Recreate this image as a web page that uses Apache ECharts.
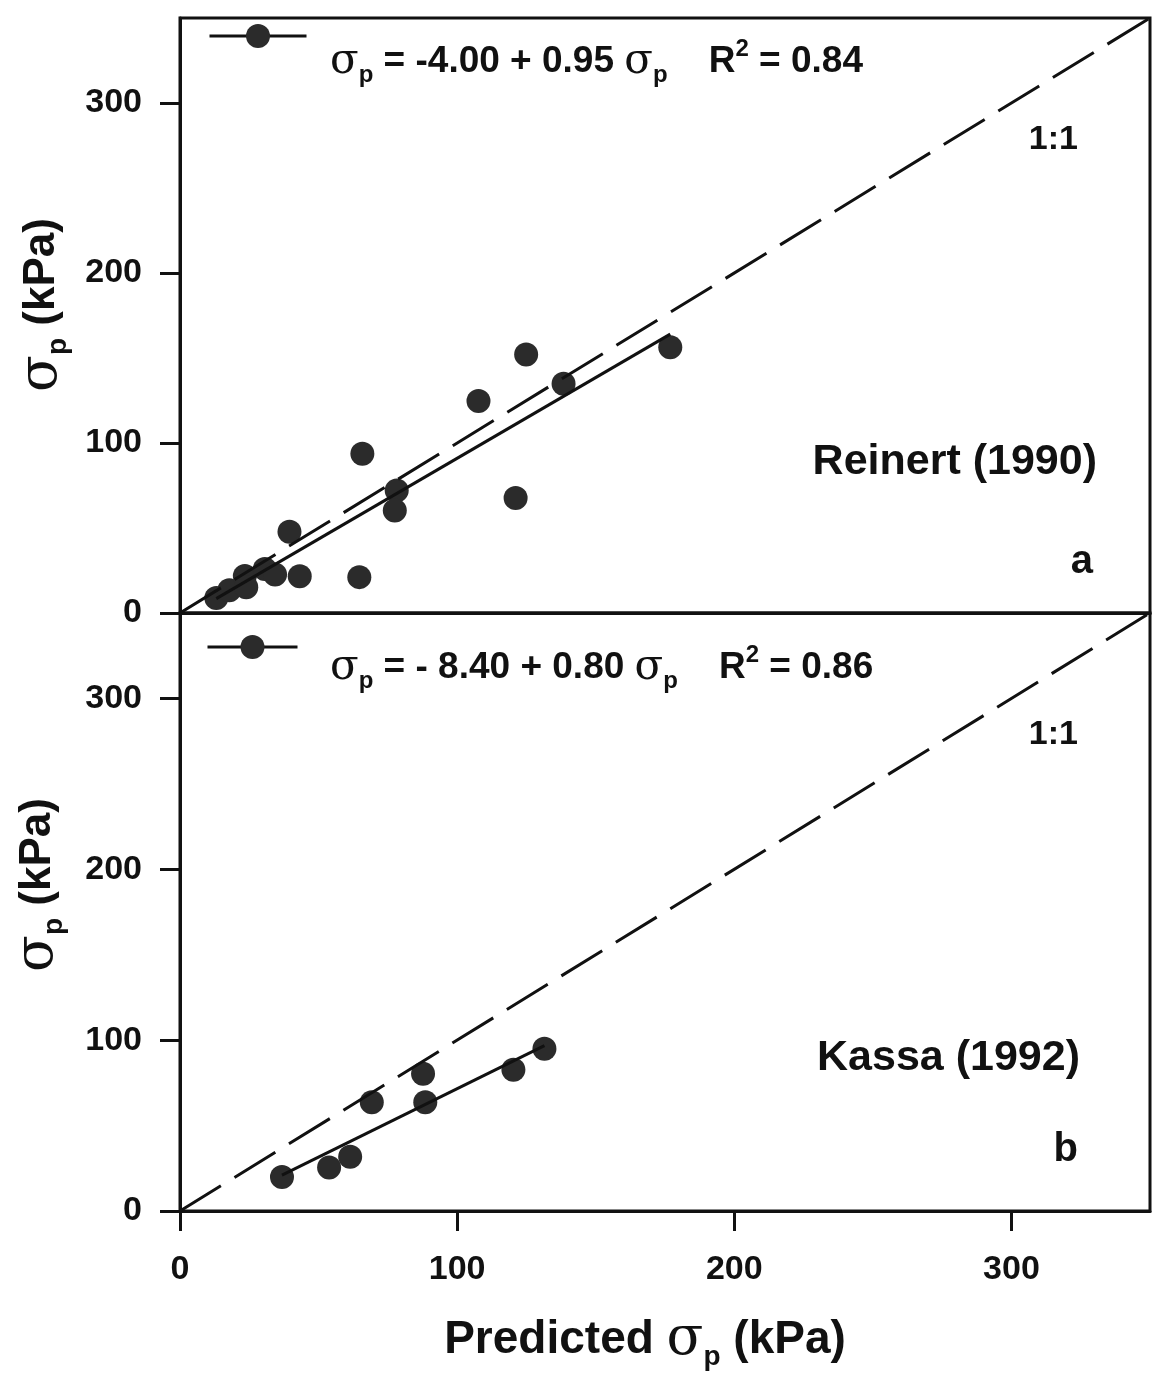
<!DOCTYPE html>
<html>
<head>
<meta charset="utf-8">
<script src="https://cdn.jsdelivr.net/npm/echarts@6/dist/echarts.min.js"></script>
<style>
  html, body { margin: 0; padding: 0; background: #fff; }
  #chart { width: 1164px; height: 1378px; }
</style>
</head>
<body>
<div id="chart"></div>
<script>
// Axis range and tick positions shared by both panels (kPa)
const axisMin = 0;
const axisMax = 350;
const tickValues = [0, 100, 200, 300];

// Panel a: Reinert (1990) — predicted vs measured preconsolidation pressure
const reinertPredicted = [13.1, 17.8, 23.4, 23.9, 30.6, 34.3, 43.2, 39.5, 64.7, 65.8, 78.2, 77.5, 124.9, 107.7, 138.4, 121.1, 176.9];
const reinertMeasured  = [8.8, 13.4, 21.8, 15.1, 25.9, 22.7, 21.6, 47.8, 21.1, 93.7, 72.1, 60.3, 152.1, 124.7, 134.9, 67.6, 156.3];
const reinertIntercept = -4.00;
const reinertSlope = 0.95;
const reinertR2 = 0.84;

// Panel b: Kassa (1992)
const kassaPredicted = [36.8, 53.8, 61.4, 69.2, 88.5, 87.7, 120.3, 131.5];
const kassaMeasured  = [19.9, 25.4, 31.8, 63.6, 63.7, 80.3, 82.7, 95.0];
const kassaIntercept = -8.40;
const kassaSlope = 0.80;
const kassaR2 = 0.86;

// Reference 1:1 line
const oneToOne = [[axisMin, axisMin], [axisMax, axisMax]];

const SANS = '"Liberation Sans", Arial, sans-serif';
const SERIF = '"DejaVu Serif", "Liberation Serif", serif';
const INK = '#111';
const DOT = '#2b2b2b';

function pairs(xs, ys) { return xs.map((x, i) => [x, ys[i]]); }
function fitSegment(xs, a, b) {
  const lo = Math.min(...xs), hi = Math.max(...xs);
  return [[lo, a + b * lo], [hi, a + b * hi]];
}

const eqRich = {
  t:   { fontFamily: SANS, fontSize: 37, fontWeight: 'bold', lineHeight: 50, color: INK },
  s:   { fontFamily: SERIF, fontSize: 42, lineHeight: 50, color: INK },
  p:   { fontFamily: SANS, fontSize: 24, fontWeight: 'bold', lineHeight: 24, verticalAlign: 'bottom', color: INK },
  sup: { fontFamily: SANS, fontSize: 24, fontWeight: 'bold', lineHeight: 24, verticalAlign: 'top', color: INK }
};
const nameRich = {
  t: { fontFamily: SANS, fontSize: 44, fontWeight: 'bold', lineHeight: 60, color: INK },
  s: { fontFamily: SERIF, fontSize: 54, lineHeight: 60, color: INK },
  p: { fontFamily: SANS, fontSize: 28, fontWeight: 'bold', lineHeight: 28, verticalAlign: 'bottom', color: INK }
};
const xNameRich = {
  t: { fontFamily: SANS, fontSize: 46, fontWeight: 'bold', lineHeight: 62, color: INK },
  s: { fontFamily: SERIF, fontSize: 54, lineHeight: 62, color: INK },
  p: { fontFamily: SANS, fontSize: 28, fontWeight: 'bold', lineHeight: 28, verticalAlign: 'bottom', color: INK }
};

function equation(a, b, r2, signGap) {
  const sign = a < 0 ? '-' + signGap : '+' + signGap;
  return '{s|σ}{p|p}{t| = ' + sign + Math.abs(a).toFixed(2) + ' + ' + b.toFixed(2) + ' }{s|σ}{p|p}{t|    R}{sup|2}{t| = ' + r2.toFixed(2) + '}';
}

function label(text, x, y, size, align) {
  return {
    type: 'text', x: x, y: y, z: 10,
    style: {
      text: text, fill: INK,
      font: 'bold ' + size + 'px ' + SANS,
      align: align, textAlign: align,
      verticalAlign: 'middle', textVerticalAlign: 'middle'
    }
  };
}
function richText(text, rich, x, y, align, rotation) {
  return {
    type: 'text', x: x, y: y, rotation: rotation || 0, z: 10,
    style: {
      text: text, rich: rich, fill: INK,
      align: align, textAlign: align,
      verticalAlign: 'middle', textVerticalAlign: 'middle'
    }
  };
}

const axisLineStyle = { color: INK, width: 3 };
const tickLabel = { fontFamily: SANS, fontSize: 34, fontWeight: 'bold', color: INK };

function yAxis(gridIndex) {
  return {
    type: 'value', gridIndex: gridIndex, min: axisMin, max: axisMax, interval: 100,
    axisLine: { show: true, lineStyle: axisLineStyle },
    axisTick: { show: true, length: 20, inside: false, lineStyle: { color: INK, width: 3 }, customValues: tickValues },
    axisLabel: Object.assign({ margin: 38, customValues: tickValues }, tickLabel),
    splitLine: { show: false }
  };
}

const option = {
  backgroundColor: '#fff',
  animation: false,
  grid: [
    { left: 180, top: 18, width: 970, height: 595, show: true, borderColor: INK, borderWidth: 3, backgroundColor: 'transparent' },
    { left: 180, top: 613, width: 970, height: 598, show: true, borderColor: INK, borderWidth: 3, backgroundColor: 'transparent' }
  ],
  xAxis: [
    {
      type: 'value', gridIndex: 0, min: axisMin, max: axisMax, interval: 100,
      axisLine: { show: true, lineStyle: axisLineStyle },
      axisTick: { show: false }, axisLabel: { show: false }, splitLine: { show: false }
    },
    {
      type: 'value', gridIndex: 1, min: axisMin, max: axisMax, interval: 100,
      axisLine: { show: true, lineStyle: axisLineStyle },
      axisTick: { show: true, length: 20, inside: false, lineStyle: { color: INK, width: 3 }, customValues: tickValues },
      axisLabel: Object.assign({ margin: 42, customValues: tickValues }, tickLabel),
      splitLine: { show: false }
    }
  ],
  yAxis: [yAxis(0), yAxis(1)],
  legend: [
    {
      data: ['Reinert fit'], left: 208, top: 21, itemWidth: 97, itemHeight: 30,
      selectedMode: false, formatter: () => '', lineStyle: { width: 3 }, padding: 0
    },
    {
      data: ['Kassa fit'], left: 206, top: 632, itemWidth: 90, itemHeight: 30,
      selectedMode: false, formatter: () => '', lineStyle: { width: 3 }, padding: 0
    }
  ],
  series: [
    {
      type: 'line', xAxisIndex: 0, yAxisIndex: 0, data: oneToOne, showSymbol: false, symbol: 'none',
      lineStyle: { color: INK, width: 3, type: [48, 16] }, silent: true
    },
    {
      name: 'Reinert fit', type: 'line', xAxisIndex: 0, yAxisIndex: 0,
      data: fitSegment(reinertPredicted, reinertIntercept, reinertSlope),
      symbol: 'circle', showSymbol: false, color: DOT,
      lineStyle: { color: INK, width: 3 }, silent: true
    },
    {
      type: 'scatter', xAxisIndex: 0, yAxisIndex: 0, data: pairs(reinertPredicted, reinertMeasured),
      symbol: 'circle', symbolSize: 24, itemStyle: { color: DOT, opacity: 1 }, silent: true
    },
    {
      type: 'line', xAxisIndex: 1, yAxisIndex: 1, data: oneToOne, showSymbol: false, symbol: 'none',
      lineStyle: { color: INK, width: 3, type: [48, 16] }, silent: true
    },
    {
      name: 'Kassa fit', type: 'line', xAxisIndex: 1, yAxisIndex: 1,
      data: fitSegment(kassaPredicted, kassaIntercept, kassaSlope),
      symbol: 'circle', showSymbol: false, color: DOT,
      lineStyle: { color: INK, width: 3 }, silent: true
    },
    {
      type: 'scatter', xAxisIndex: 1, yAxisIndex: 1, data: pairs(kassaPredicted, kassaMeasured),
      symbol: 'circle', symbolSize: 24, itemStyle: { color: DOT, opacity: 1 }, silent: true
    }
  ],
  graphic: [
    richText(equation(reinertIntercept, reinertSlope, reinertR2, ''), eqRich, 330, 62, 'left'),
    richText(equation(kassaIntercept, kassaSlope, kassaR2, ' '), eqRich, 330, 668, 'left'),
    label('1:1', 1078, 140, 34, 'right'),
    label('Reinert (1990)', 1097, 462, 43, 'right'),
    label('a', 1093, 562, 40, 'right'),
    label('1:1', 1078, 735, 34, 'right'),
    label('Kassa (1992)', 1080, 1058, 43, 'right'),
    label('b', 1078, 1150, 40, 'right'),
    richText('{s|σ}{p|p}{t| (kPa)}', nameRich, 42, 305, 'center', Math.PI / 2),
    richText('{s|σ}{p|p}{t| (kPa)}', nameRich, 38, 885, 'center', Math.PI / 2),
    richText('{t|Predicted }{s|σ}{p|p}{t| (kPa)}', xNameRich, 645, 1340, 'center')
  ]
};

const chart = echarts.init(document.getElementById('chart'), null, { renderer: 'canvas' });
chart.setOption(option);
</script>
</body>
</html>
